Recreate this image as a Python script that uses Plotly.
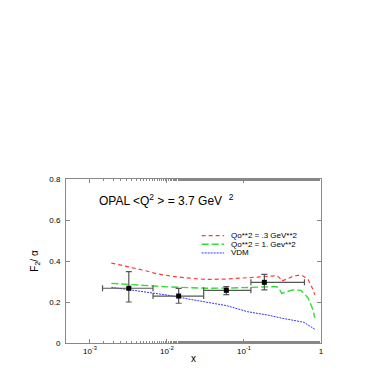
import plotly.graph_objects as go

# Data points (OPAL)
px = [0.0032, 0.0142, 0.059, 0.184]
py = [0.267, 0.229, 0.257, 0.296]
py_hi = [0.348, 0.266, 0.275, 0.335]
py_lo = [0.200, 0.194, 0.236, 0.259]
px_lo = [0.00146, 0.0066, 0.030, 0.123]
px_hi = [0.0066, 0.030, 0.123, 0.61]

# Qo**2 = .3 GeV**2
x_red = [0.0019, 0.003, 0.005, 0.0075, 0.012, 0.02, 0.033, 0.06, 0.1, 0.15, 0.2,
         0.266, 0.29, 0.31, 0.36, 0.43, 0.5, 0.58, 0.68, 0.79, 0.83]
y_red = [0.39, 0.375, 0.355, 0.337, 0.325, 0.316, 0.31, 0.312, 0.318, 0.322, 0.325,
         0.328, 0.318, 0.302, 0.312, 0.325, 0.33, 0.328, 0.31, 0.26, 0.235]

# Qo**2 = 1. Gev**2
x_green = [0.0019, 0.003, 0.006, 0.01, 0.02, 0.033, 0.06, 0.1, 0.15, 0.2, 0.266,
           0.29, 0.31, 0.36, 0.43, 0.55, 0.68, 0.79, 0.83]
y_green = [0.291, 0.286, 0.278, 0.274, 0.27, 0.267, 0.268, 0.27, 0.272, 0.274, 0.275,
           0.26, 0.242, 0.25, 0.259, 0.257, 0.22, 0.16, 0.123]

# VDM
x_blue = [0.0019, 0.003, 0.005, 0.01, 0.02, 0.033, 0.06, 0.11, 0.2, 0.32, 0.6, 0.79, 0.83]
y_blue = [0.272, 0.262, 0.252, 0.234, 0.213, 0.2, 0.182, 0.153, 0.137, 0.12, 0.101, 0.072, 0.067]

series_names = ["Qo**2 = .3 GeV**2", "Qo**2 = 1. Gev**2", "VDM"]
series_colors = ["#ff3b3b", "#33dd33", "#3535ff"]
series_dash = ["4px,3px", "7px,3px", "2px,1px"]
series_width = [1.2, 1.4, 1.0]

x_tickvals = [0.001, 0.01, 0.1, 1]
x_ticktext = ["10<sup>-3</sup>", "10<sup>-2</sup>", "10<sup>-1</sup>", "1"]
y_tickvals = [0, 0.2, 0.4, 0.6, 0.8]
y_ticktext = ["0", "0.2", "0.4", "0.6", "0.8"]

FONT = "Liberation Sans, Arial, sans-serif"

fig = go.Figure()
for xs, ys, nm, c, d, w in zip([x_red, x_green, x_blue], [y_red, y_green, y_blue],
                               series_names, series_colors, series_dash, series_width):
    fig.add_trace(go.Scatter(x=xs, y=ys, mode="lines", name=nm, showlegend=False,
                             line=dict(color=c, width=w, dash=d)))

fig.add_trace(go.Scatter(
    x=px, y=py, mode="markers", showlegend=False,
    marker=dict(symbol="square", size=5, color="black"),
    error_y=dict(type="data", symmetric=False,
                 array=[h - v for h, v in zip(py_hi, py)],
                 arrayminus=[v - l for l, v in zip(py_lo, py)],
                 color="#555555", thickness=1.2, width=3),
    error_x=dict(type="data", symmetric=False,
                 array=[h - v for h, v in zip(px_hi, px)],
                 arrayminus=[v - l for l, v in zip(px_lo, px)],
                 color="#555555", thickness=1.2, width=3),
))

# compact legend (key lines + labels)
leg_x0, leg_x1, leg_tx, leg_y0, leg_dy = 0.532, 0.620, 0.639, 0.655, 0.053
for i, (nm, c, d, w) in enumerate(zip(series_names, series_colors, series_dash, series_width)):
    yy = leg_y0 - i * leg_dy
    fig.add_shape(type="line", xref="paper", yref="paper", x0=leg_x0, x1=leg_x1,
                  y0=yy, y1=yy, line=dict(color=c, width=w, dash=d))
    fig.add_annotation(text=nm, xref="paper", yref="paper", x=leg_tx, y=yy,
                       xanchor="left", yanchor="middle", showarrow=False,
                       font=dict(family=FONT, size=8, color="black"))

fig.add_annotation(text="OPAL &lt;Q<sup>2</sup> &gt; = 3.7 GeV  <sup>2</sup>",
                   xref="paper", yref="paper", x=0.122, y=0.875,
                   xanchor="left", yanchor="middle", showarrow=False,
                   font=dict(family=FONT, size=12, color="black"))

fig.update_layout(
    width=380, height=380,
    margin=dict(l=58, r=67, t=171, b=45),
    paper_bgcolor="white", plot_bgcolor="white",
    font=dict(family=FONT, size=8, color="black"),
    showlegend=False,
    xaxis=dict(type="log", range=[-3.31, 0], tickvals=x_tickvals, ticktext=x_ticktext,
               ticks="inside", ticklen=4, tickcolor="#888", showline=True,
               linecolor="#888", linewidth=1, mirror="ticks", showgrid=False,
               zeroline=False,
               minor=dict(ticks="inside", ticklen=2, tickcolor="#888", showgrid=False),
               title=dict(text="x", font=dict(size=10), standoff=0)),
    yaxis=dict(range=[0, 0.8], tickvals=y_tickvals, ticktext=y_ticktext,
               ticks="inside", ticklen=4, tickcolor="#888", showline=True,
               linecolor="#888", linewidth=1, mirror="ticks", showgrid=False,
               zeroline=False, ticklabelstandoff=3,
               title=dict(text="F<sub>2</sub>/ α", font=dict(size=10), standoff=8)),
)

fig.write_html("out.html")
